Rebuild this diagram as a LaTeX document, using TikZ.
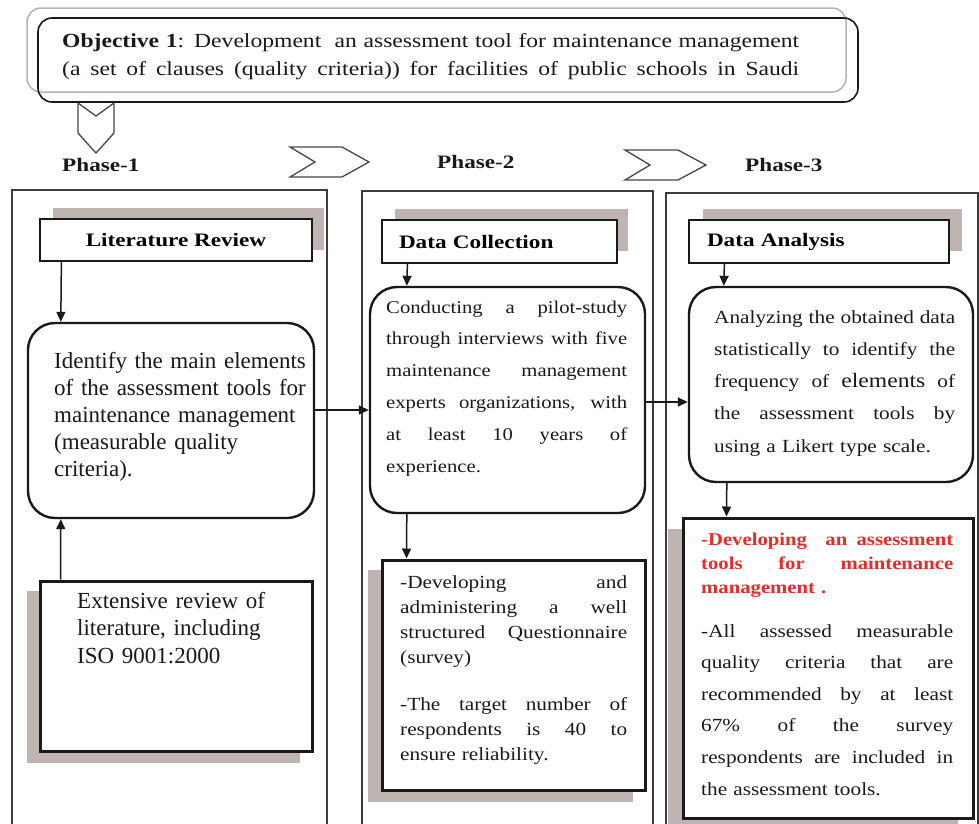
\documentclass[tikz,border=0pt]{standalone}
\usepackage{fontspec}
\setmainfont{Liberation Serif}
\newfontfamily\bodyw{Liberation Serif}[FakeStretch=1.15]
\newfontfamily\headw{Liberation Serif}[FakeStretch=1.22]
\newfontfamily\objw{Liberation Serif}[FakeStretch=1.18]
\usetikzlibrary{arrows.meta}
\definecolor{shadowgray}{RGB}{190,181,179}
\definecolor{redtxt}{RGB}{228,44,40}
\definecolor{ink}{RGB}{25,25,25}
% one justified line: interword spaces spread to the full text width
\newcommand\jl[1]{\makebox[\linewidth][s]{\spaceskip=\fontdimen2\font plus 1fil\relax #1}}

\begin{document}
\begin{tikzpicture}[x=1pt,y=-1pt,
  frame/.style={draw=ink!85, line width=1.3pt, fill=none, inner sep=0},
  shade/.style={fill=shadowgray, draw=none, inner sep=0},
  hdr/.style={draw=ink, line width=1.2pt, fill=white, inner sep=0,
    font=\headw\bfseries\fontsize{19}{22}\selectfont},
  rbox/.style={draw=ink, line width=2.4pt, rounded corners=27pt, fill=white, inner sep=0},
  sbox/.style={draw=ink, line width=3pt, fill=white, inner sep=0},
  chev/.style={draw=ink!80, line width=1.3pt, line join=miter},
  arr/.style={draw=ink, line width=1.5pt, -{Triangle[width=9pt,length=10pt]}},
  txt/.style={inner sep=0, anchor=base west, align=left, text=ink},
]
\useasboundingbox (0,0) rectangle (979,823);

% ---- objective banner
\node[draw=gray!60, line width=1.5pt, rounded corners=14pt, minimum width=819pt,
      minimum height=84pt, inner sep=0] (objback) at (436.5,50) {};
\node[draw=ink, line width=1.6pt, rounded corners=14pt, minimum width=820pt,
      minimum height=84pt, inner sep=0] (obj) at (448,60) {};
\node[txt, text width=737pt, font=\objw\fontsize{20}{28}\selectfont] (objtxt) at (62,47)
  {\jl{\textbf{Objective 1}: Development\ \ an assessment tool for maintenance management}\\
   \jl{(a set of clauses (quality criteria)) for facilities of public schools in Saudi}};

% pointer down to phase 1 and chevrons between phases
\draw[chev] (78,103) -- (96,116) -- (114,103) -- (114,133) -- (96,153) -- (78,133) -- cycle;
\draw[chev] (290,147) -- (342,147) -- (369,162) -- (342,177) -- (290,177) -- (315,162) -- cycle;
\draw[chev] (625,150) -- (678,150) -- (706,165) -- (678,180) -- (625,180) -- (650,165) -- cycle;

\node[txt, font=\headw\bfseries\fontsize{19}{22}\selectfont] (ph1) at (62,171) {Phase-1};
\node[txt, font=\headw\bfseries\fontsize{19}{22}\selectfont] (ph2) at (437,168) {Phase-2};
\node[txt, font=\headw\bfseries\fontsize{19}{22}\selectfont] (ph3) at (745,171) {Phase-3};

% ---- phase columns (open at the bottom)
\node[frame, minimum width=315pt, minimum height=680pt] (col1) at (169.5,530) {};
\node[frame, minimum width=291pt, minimum height=680pt] (col2) at (507.5,531) {};
\node[frame, minimum width=312pt, minimum height=680pt] (col3) at (822,533) {};

% ---- headers with offset shadows
\node[shade, minimum width=271pt, minimum height=42pt] (litsh) at (188.5,229) {};
\node[hdr, minimum width=272pt, minimum height=42pt] (lit) at (176,240) {Literature Review};
\node[shade, minimum width=233pt, minimum height=42pt] (dcsh) at (511.5,230) {};
\node[hdr, text width=201pt, inner xsep=17pt, align=left, minimum height=43pt] (dc) at (499.5,241.5) {Data Collection};
\node[shade, minimum width=259pt, minimum height=42pt] (dash) at (832.5,230) {};
\node[hdr, text width=224pt, inner xsep=18pt, align=left, minimum height=43pt] (da) at (819,241.5) {Data Analysis};

% ---- rounded process boxes
\node[rbox, minimum width=286pt, minimum height=195pt] (ident) at (171,420.5) {};
\node[rbox, minimum width=275pt, minimum height=226pt] (cond) at (507.5,400) {};
\node[rbox, minimum width=284pt, minimum height=195pt] (anal) at (831,384.5) {};

% ---- lower boxes with shadows
\node[shade, minimum width=273pt, minimum height=172pt] (extsh) at (163.5,677) {};
\node[sbox, minimum width=272pt, minimum height=170pt] (ext) at (176,666) {};
\node[shade, minimum width=265pt, minimum height=232pt] (devsh) at (500.5,686) {};
\node[sbox, minimum width=263pt, minimum height=230pt] (dev) at (513.5,675) {};
\node[shade, minimum width=290pt, minimum height=301pt] (ressh) at (813,679.5) {};
\node[sbox, minimum width=290pt, minimum height=300pt] (res) at (828,668) {};

% ---- connectors
\draw[arr] ([xshift=22pt]lit.south west) -- ([xshift=34pt]ident.north west);
\draw[arr] ([xshift=22pt]ext.north west) -- ([xshift=34pt]ident.south west);
\draw[arr] ([yshift=10.5pt]ident.east) -- ([yshift=-10pt]cond.west);
\draw[arr] ([xshift=26pt]dc.south west) -- ([xshift=38pt]cond.north west);
\draw[arr] ([xshift=38pt]cond.south west) -- ([xshift=26pt]dev.north west);
\draw[arr] ([yshift=-2pt]cond.east) -- ([yshift=-17.5pt]anal.west);
\draw[arr] ([xshift=36pt]da.south west) -- ([xshift=36pt]anal.north west);
\draw[arr] ([xshift=39pt]anal.south west) -- ([xshift=45pt]res.north west);

% ---- box texts
\node[txt, text width=262pt, font=\fontsize{23}{27}\selectfont] (identtxt) at (54,368)
  {Identify the main elements\\of the assessment tools for\\maintenance management\\(measurable quality\\criteria).};
\node[txt, text width=230pt, font=\fontsize{23}{27.5}\selectfont] (exttxt) at (77,608)
  {Extensive review of\\literature, including\\ISO 9001:2000};
\node[txt, text width=241pt, font=\bodyw\fontsize{18}{31.8}\selectfont] (condtxt) at (386,313)
  {\jl{Conducting a pilot-study}\\\jl{through interviews with five}\\\jl{maintenance management}\\
   \jl{experts organizations, with}\\\jl{at least 10 years of}\\experience.};
\node[txt, text width=227pt, font=\bodyw\fontsize{18.5}{25}\selectfont] (devtxt) at (400,588)
  {\jl{-Developing and}\\\jl{administering a well}\\\jl{structured Questionnaire}\\(survey)\\[22pt]
   \jl{-The target number of}\\\jl{respondents is 40 to}\\ensure reliability.};
\node[txt, text width=241pt, font=\bodyw\fontsize{18.5}{32.3}\selectfont] (analtxt) at (714,323)
  {\jl{Analyzing the obtained data}\\\jl{statistically to identify the}\\
   \jl{frequency of {\fontsize{20.5}{32.3}\selectfont elements} of}\\\jl{the assessment tools by}\\using a Likert type scale.};
\node[txt, text width=252pt, text=redtxt, font=\bodyw\bfseries\fontsize{18}{24}\selectfont] (restitle) at (701,545)
  {\jl{-Developing\ \ an assessment}\\\jl{tools for maintenance}\\management .};
\node[txt, text width=252pt, font=\bodyw\fontsize{18.5}{31.6}\selectfont] (restxt) at (701,637)
  {\jl{-All assessed measurable}\\\jl{quality criteria that are}\\\jl{recommended by at least}\\
   \jl{67\% of the survey}\\\jl{respondents are included in}\\the assessment tools.};
\end{tikzpicture}
\end{document}
